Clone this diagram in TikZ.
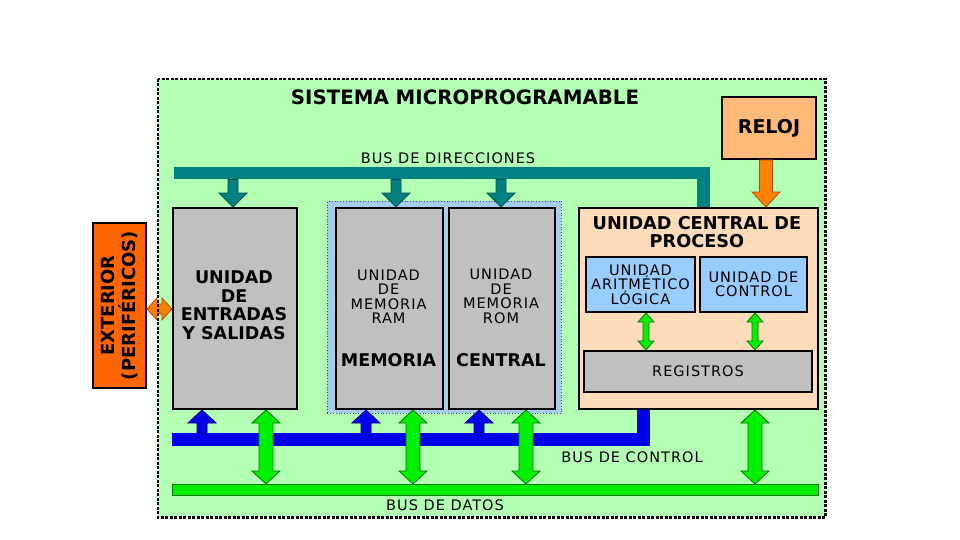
\documentclass[tikz,border=0pt]{standalone}
\usepackage{fontspec}
\setmainfont{DejaVu Sans}
\newfontfamily\spaced[LetterSpace=7]{DejaVu Sans}
\usetikzlibrary{calc}
\definecolor{bgGreen}{RGB}{179,255,179}
\definecolor{relojC}{RGB}{255,185,120}
\definecolor{extC}{RGB}{255,102,0}
\definecolor{orangeA}{RGB}{255,128,0}
\definecolor{orangeD}{RGB}{170,80,0}
\definecolor{tealC}{RGB}{0,128,128}
\definecolor{tealD}{RGB}{0,85,85}
\definecolor{grayC}{RGB}{192,192,192}
\definecolor{memC}{RGB}{165,205,240}
\definecolor{memD}{RGB}{60,80,120}
\definecolor{cpuC}{RGB}{255,220,185}
\definecolor{aluC}{RGB}{153,204,255}
\definecolor{blueC}{RGB}{0,0,235}
\definecolor{blueD}{RGB}{0,0,140}
\definecolor{greenC}{RGB}{0,240,0}
\definecolor{greenD}{RGB}{0,120,0}
% vertical double arrow: #1 top point, #2 bottom point, #3 shaft half, #4 head half, #5 head length, #6 style
\newcommand\vdouble[6]{%
 \filldraw[#6] let \p1=(#1), \p2=(#2) in
 ({\x1-#3pt},{\y1-#5pt}) -- ({\x1-#4pt},{\y1-#5pt}) -- (\x1,\y1) -- ({\x1+#4pt},{\y1-#5pt}) -- ({\x1+#3pt},{\y1-#5pt})
 -- ({\x1+#3pt},{\y2+#5pt}) -- ({\x1+#4pt},{\y2+#5pt}) -- (\x1,\y2) -- ({\x1-#4pt},{\y2+#5pt}) -- ({\x1-#3pt},{\y2+#5pt}) -- cycle;}
% vertical single arrow: #1 tail, #2 tip
\newcommand\vsingle[6]{%
 \filldraw[#6] let \p1=(#1), \p2=(#2), \n1={sign(\y1-\y2)} in
 ({\x2-#3pt},\y1) -- ({\x2-#3pt},{\y2+\n1*#5pt}) -- ({\x2-#4pt},{\y2+\n1*#5pt}) -- (\x2,\y2)
 -- ({\x2+#4pt},{\y2+\n1*#5pt}) -- ({\x2+#3pt},{\y2+\n1*#5pt}) -- ({\x2+#3pt},\y1) -- cycle;}
% horizontal double arrow: #1 left point, #2 right point
\newcommand\hdouble[6]{%
 \filldraw[#6] let \p1=(#1), \p2=(#2) in
 ({\x1+#5pt},{\y1+#3pt}) -- ({\x1+#5pt},{\y1+#4pt}) -- (\x1,\y1) -- ({\x1+#5pt},{\y1-#4pt}) -- ({\x1+#5pt},{\y1-#3pt})
 -- ({\x2-#5pt},{\y1-#3pt}) -- ({\x2-#5pt},{\y1-#4pt}) -- (\x2,\y1) -- ({\x2-#5pt},{\y1+#4pt}) -- ({\x2-#5pt},{\y1+#3pt}) -- cycle;}
\begin{document}
\begin{tikzpicture}[x=1pt,y=-1pt,
  box/.style={draw=black, line width=2pt, fill=grayC, inner sep=0pt, anchor=north west},
  busbar/.style={inner sep=0pt, anchor=north west, draw=none},
  big/.style={font=\bfseries\fontsize{17.5}{18.5}\selectfont, align=center, inner sep=0pt},
  small/.style={font=\spaced\fontsize{14.5}{14.5}\selectfont, align=center, inner sep=0pt},
  lbl/.style={font=\spaced\fontsize{14.5}{15}\selectfont, inner sep=0pt},
  grn/.style={fill=greenC, draw=greenD, line width=0.8pt},
  blu/.style={fill=blueC, draw=blueD, line width=0.8pt},
  tea/.style={fill=tealC, draw=tealD, line width=0.8pt},
  ora/.style={fill=orangeA, draw=orangeD, line width=0.8pt}]
\useasboundingbox (0,0) rectangle (960,540);
\fill[white] (0,0) rectangle (960,540);
% system frame
\node[anchor=north west, inner sep=0pt, minimum width=667, minimum height=438, fill=bgGreen] (sys) at (158,79) {};
\node[font=\bfseries\fontsize{19.8}{22}\selectfont, inner sep=0pt] (title) at (465,97) {SISTEMA MICROPROGRAMABLE};
% reloj
\node[box, fill=relojC, minimum width=94, minimum height=62] (reloj) at (721,96) {};
\node[font=\bfseries\fontsize{19}{20}\selectfont, inner sep=0pt] (relojt) at (reloj.center) {RELOJ};
% exterior
\node[box, fill=extC, minimum width=53, minimum height=165] (ext) at (92,222) {};
\node[rotate=90, font=\bfseries\fontsize{18}{21}\selectfont, align=center, inner sep=0pt] (extt) at (ext.center) {EXTERIOR\\(PERIFÉRICOS)};
% memory group
\node[anchor=north west, inner sep=0pt, minimum width=234, minimum height=212, fill=memC,
  draw=memD, line width=0.8pt, dotted] (mem) at (327,201) {};
% boxes
\node[box, minimum width=124, minimum height=201] (io) at (172,207) {};
\node[big] (iot) at (234,305) {UNIDAD\\DE\\ENTRADAS\\Y SALIDAS};
\node[box, minimum width=107, minimum height=201] (ram) at (335,207) {};
\node[small] (ramt) at (388.5,296.5) {UNIDAD\\DE\\MEMORIA\\RAM};
\node[big] (ramb) at (388.5,360) {MEMORIA};
\node[box, minimum width=106, minimum height=201] (rom) at (448,207) {};
\node[small] (romt) at (501,296.5) {UNIDAD\\DE\\MEMORIA\\ROM};
\node[big] (romb) at (501,360) {CENTRAL};
% exterior arrow
\hdouble{ext.east |- 0,309}{io.west |- 0,309}{5}{11}{10}{ora}
% cpu
\node[box, fill=cpuC, minimum width=239, minimum height=201] (cpu) at (578,207) {};
\node[font=\bfseries\fontsize{17.7}{18.5}\selectfont, align=center, inner sep=0pt] (cput) at (697,232) {UNIDAD CENTRAL DE\\PROCESO};
\node[box, fill=aluC, minimum width=109, minimum height=55] (alu) at (585,256) {};
\node[small] (alut) at (alu.center) {UNIDAD\\ARITMÉTICO\\LÓGICA};
\node[box, fill=aluC, minimum width=107, minimum height=55] (cu) at (699,256) {};
\node[small] (cut) at (cu.center) {UNIDAD DE\\CONTROL};
\node[box, minimum width=228, minimum height=41] (reg) at (583,350) {};
\node[small] (regt) at (reg.center) {REGISTROS};
\vdouble{alu.south -| 646,0}{reg.north -| 646,0}{3}{8}{9}{grn}
\vdouble{cu.south -| 755,0}{reg.north -| 755,0}{3}{8}{9}{grn}
% bus de direcciones
\node[busbar, fill=tealC, minimum width=536, minimum height=12] (busdir) at (174,167) {};
\fill[tealC] (busdir.north east) rectangle (cpu.north -| 697,0);
\node[lbl] (ldir) at (448,158) {BUS DE DIRECCIONES};
\vsingle{busdir.south -| 233,0}{io.north -| 233,0}{5}{14}{14}{tea}
\vsingle{busdir.south -| 396,0}{ram.north -| 396,0}{5}{14}{14}{tea}
\vsingle{busdir.south -| 501,0}{rom.north -| 501,0}{5}{14}{14}{tea}
% reloj arrow
\vsingle{reloj.south -| 766,0}{cpu.north -| 766,0}{6.5}{14}{15}{ora}
% bus de control
\node[busbar, fill=blueC, minimum width=478, minimum height=13] (busctl) at (172,433) {};
\fill[blueC] (busctl.south east) rectangle (cpu.south -| 637,0);
\node[lbl] (lctl) at (632,457) {BUS DE CONTROL};
\vsingle{busctl.north -| 202,0}{io.south -| 202,0}{5}{14}{13}{blu}
\vsingle{busctl.north -| 366,0}{ram.south -| 366,0}{5}{14}{13}{blu}
\vsingle{busctl.north -| 479,0}{rom.south -| 479,0}{5}{14}{13}{blu}
% bus de datos
\node[busbar, fill=greenC, draw=greenD, line width=0.6pt, minimum width=646, minimum height=11] (busdat) at (172,484) {};
\node[lbl] (ldat) at (445,505) {BUS DE DATOS};
\vdouble{io.south -| 266,0}{busdat.north -| 266,0}{7}{14}{13}{grn}
\vdouble{ram.south -| 413,0}{busdat.north -| 413,0}{7}{14}{13}{grn}
\vdouble{rom.south -| 526,0}{busdat.north -| 526,0}{7}{14}{13}{grn}
\vdouble{cpu.south -| 755,0}{busdat.north -| 755,0}{7}{14}{13}{grn}
% dotted frame on top
\draw[black, line width=2.5pt, dash pattern=on 3pt off 1.5pt] (sys.north west) rectangle (sys.south east);
\end{tikzpicture}
\end{document}
